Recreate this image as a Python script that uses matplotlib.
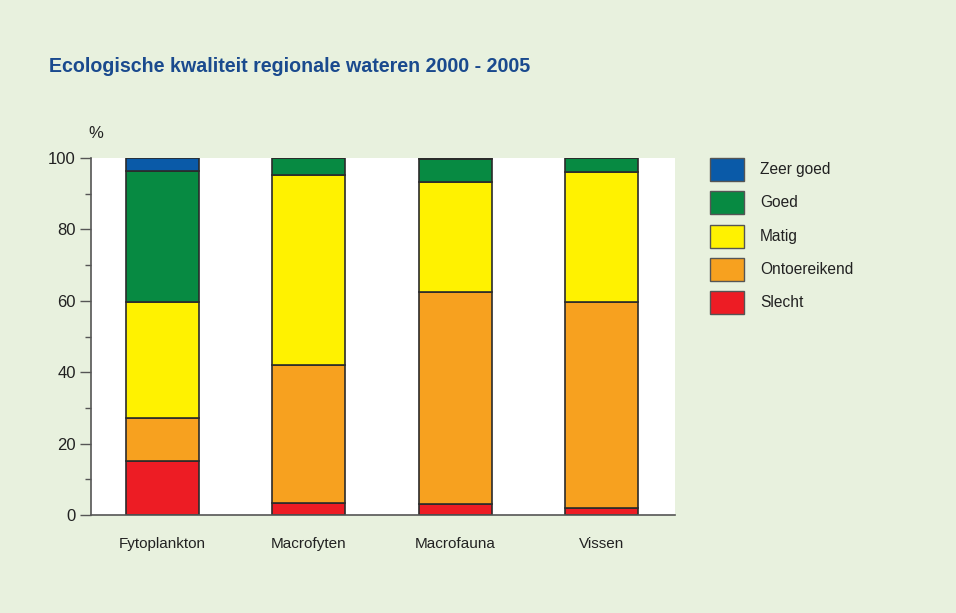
import matplotlib
matplotlib.use("Agg")
import matplotlib.pyplot as plt
from matplotlib.patches import Rectangle
import numpy as np

categories = ["Fytoplankton", "Macrofyten", "Macrofauna", "Vissen"]
series_names = ["Zeer goed", "Goed", "Matig", "Ontoereikend", "Slecht"]
slecht = [15.0, 3.4, 3.1, 2.0]
ontoereikend = [12.2, 38.6, 59.4, 57.7]
matig = [32.5, 53.2, 30.8, 36.4]
goed = [36.7, 4.8, 6.4, 3.9]
zeer_goed = [3.6, 0.0, 0.3, 0.0]
yticks = [0, 20, 40, 60, 80, 100]

colors = {"Zeer goed": "#0a5aa8", "Goed": "#078a42", "Matig": "#fff200",
          "Ontoereikend": "#f7a11f", "Slecht": "#ed1c24"}
bg = "#e8f1de"

plt.rcParams["font.family"] = ["Liberation Sans", "DejaVu Sans"]

fig = plt.figure(figsize=(9.56, 6.13), dpi=100, facecolor=bg)
ax = fig.add_axes([91/956, 1-515/613, (675-91)/956, (515-158)/613])
ax.set_facecolor("white")

x = np.arange(len(categories))
stack = [("Slecht", slecht), ("Ontoereikend", ontoereikend), ("Matig", matig),
         ("Goed", goed), ("Zeer goed", zeer_goed)]
bottom = np.zeros(len(categories))
for name, vals in stack:
    v = np.array(vals)
    ax.bar(x, v, bottom=bottom, width=0.5, color=colors[name],
           edgecolor="#2b2b2b", linewidth=1.2, zorder=2)
    bottom += v

ax.set_xlim(-0.49, 3.503)
ax.set_ylim(0, 100)
ax.set_yticks(yticks)
ax.set_yticks([10, 30, 50, 70, 90], minor=True)
ax.tick_params(axis="y", which="major", length=8, width=1, color="#555555",
               labelsize=12, pad=3, labelcolor="#222222")
ax.tick_params(axis="y", which="minor", length=4, width=1, color="#555555")
ax.set_xticks(x)
ax.set_xticklabels(categories)
ax.tick_params(axis="x", length=0, labelsize=11, pad=16, labelcolor="#222222")
for s in ["top", "right"]:
    ax.spines[s].set_visible(False)
ax.spines["left"].set_color("#555555")
ax.spines["bottom"].set_color("#555555")
ax.spines["left"].set_linewidth(1.2)
ax.spines["bottom"].set_linewidth(1.2)

fig.text(96/956, 1-133/613, "%", fontsize=12, color="#222222", ha="center", va="center")
fig.text(49/956, 1-66/613, "Ecologische kwaliteit regionale wateren 2000 - 2005",
         fontsize=14.1, fontweight="bold", color="#1a4a8e", ha="left", va="center")

# legend
for i, name in enumerate(series_names):
    yc = 169.5 + i * 33.3
    fig.patches.append(Rectangle((710/956, 1-(yc+11.5)/613), 34/956, 23/613,
                                 transform=fig.transFigure, facecolor=colors[name],
                                 edgecolor="#555555", linewidth=1.0))
    fig.text(760/956, 1-yc/613, name, fontsize=11.2, color="#222222", ha="left", va="center")

fig.savefig("out.png", dpi=100, facecolor=bg)
